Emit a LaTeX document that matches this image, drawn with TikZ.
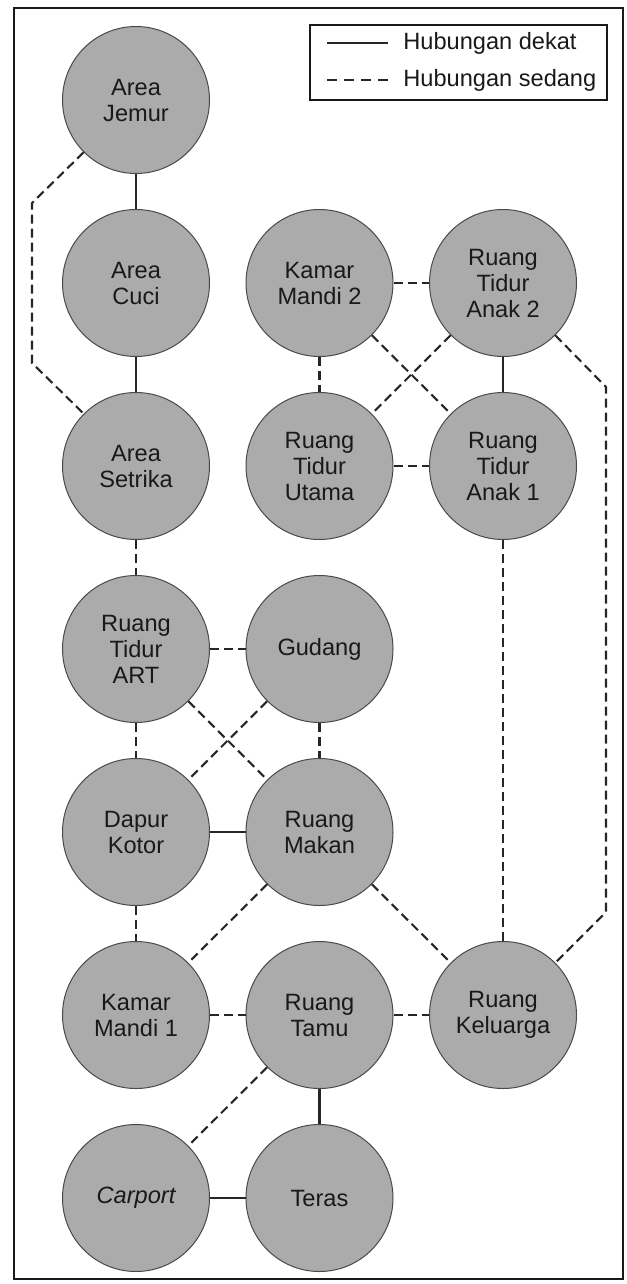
\documentclass[tikz,border=0pt]{standalone}
\usepackage{fontspec}
\setmainfont{Liberation Sans}
\definecolor{roomgray}{HTML}{ABABAB}
\definecolor{roomedge}{HTML}{4A4A4A}
\begin{document}
\begin{tikzpicture}[x=0.5pt,y=-0.5pt,
	room/.style={shape=circle, minimum size=73.5pt, inner sep=0pt, fill=roomgray, draw=roomedge, line width=0.5pt, align=center, font=\fontsize{11.8}{13}\selectfont, text=black!90},
	dekat/.style={line width=1.05pt, black!85},
	sedang/.style={line width=1.05pt, black!85, dash pattern=on 4.5pt off 2.5pt},
	legtext/.style={anchor=west, inner sep=0pt, font=\fontsize{11.8}{13}\selectfont, text=black!90}]
	\useasboundingbox (0,0) rectangle (626,1284);
	\draw[line width=1.2pt, black!90] (14,8) rectangle (623,1279);
	\node[room] (jemur) at (136,100) {Area\\Jemur};
	\node[room] (cuci) at (136,283) {Area\\Cuci};
	\node[room] (km2) at (319.5,283) {Kamar\\Mandi 2};
	\node[room] (anak2) at (503,283) {Ruang\\Tidur\\Anak 2};
	\node[room] (setrika) at (136,466) {Area\\Setrika};
	\node[room] (utama) at (319.5,466) {Ruang\\Tidur\\Utama};
	\node[room] (anak1) at (503,466) {Ruang\\Tidur\\Anak 1};
	\node[room] (art) at (136,649) {Ruang\\Tidur\\ART};
	\node[room] (gudang) at (319.5,649) {Gudang};
	\node[room] (dapur) at (136,832) {Dapur\\Kotor};
	\node[room] (makan) at (319.5,832) {Ruang\\Makan};
	\node[room] (km1) at (136,1015) {Kamar\\Mandi 1};
	\node[room] (tamu) at (319.5,1015) {Ruang\\Tamu};
	\node[room] (keluarga) at (503,1015) {Ruang\\Keluarga};
	\node[room] (carport) at (136,1198) {\itshape Carport};
	\node[room] (teras) at (319.5,1198) {Teras};
	\coordinate (jw1) at (32,203);
	\coordinate (jw2) at (32,363);
	\coordinate (ke1) at (606,387);
	\coordinate (ke2) at (606,912);
	\draw[dekat] (jemur) -- (cuci);
	\draw[dekat] (cuci) -- (setrika);
	\draw[dekat] (anak2) -- (anak1);
	\draw[dekat] (dapur) -- (makan);
	\draw[dekat] (tamu) -- (teras);
	\draw[dekat] (carport) -- (teras);
	\draw[sedang] (jemur.south west) -- (jw1) -- (jw2) -- (setrika.north west);
	\draw[sedang] (anak2.south east) -- (ke1) -- (ke2) -- (keluarga.north east);
	\draw[sedang] (km2) -- (anak2);
	\draw[sedang] (km2) -- (utama);
	\draw[sedang] (km2) -- (anak1);
	\draw[sedang] (anak2) -- (utama);
	\draw[sedang] (utama) -- (anak1);
	\draw[sedang] (anak1) -- (keluarga);
	\draw[sedang] (setrika) -- (art);
	\draw[sedang] (art) -- (gudang);
	\draw[sedang] (art) -- (dapur);
	\draw[sedang] (art) -- (makan);
	\draw[sedang] (gudang) -- (dapur);
	\draw[sedang] (gudang) -- (makan);
	\draw[sedang] (dapur) -- (km1);
	\draw[sedang] (makan) -- (km1);
	\draw[sedang] (makan) -- (keluarga);
	\draw[sedang] (km1) -- (tamu);
	\draw[sedang] (tamu) -- (keluarga);
	\draw[sedang] (tamu) -- (carport);
	\draw[line width=1pt, black!90] (310,25) rectangle (607,100);
	\coordinate (lg1a) at (327,43);
	\coordinate (lg1b) at (388,43);
	\coordinate (lg2a) at (327,80);
	\coordinate (lg2b) at (388,80);
	\draw[dekat] (lg1a) -- (lg1b);
	\draw[sedang, dash pattern=on 5pt off 3.5pt] (lg2a) -- (lg2b);
	\node[legtext] (ldekat) at (403,43) {Hubungan dekat};
	\node[legtext] (lsedang) at (403,80) {Hubungan sedang};
\end{tikzpicture}
\end{document}
